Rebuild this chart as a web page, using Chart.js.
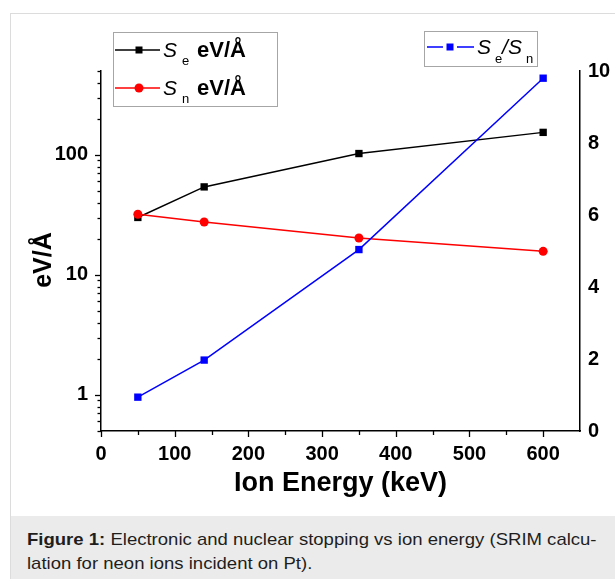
<!DOCTYPE html>
<html>
<head>
<meta charset="utf-8">
<script src="https://cdn.jsdelivr.net/npm/chart.js@4.4.0/dist/chart.umd.min.js"></script>
<style>
html,body{margin:0;padding:0;background:#fff;width:615px;height:579px;overflow:hidden;font-family:"Liberation Sans",Arial,sans-serif;}
#frame{position:absolute;left:10px;top:13px;width:640px;height:600px;border-left:1px solid #dcdcdc;border-top:1px solid #dcdcdc;box-sizing:border-box;background:#fff;}
#cap{position:absolute;left:11px;top:516px;width:604px;height:63px;background:#ebebeb;}
#capText{position:absolute;left:16px;top:12px;font-size:17px;line-height:24px;color:#1e1e1e;white-space:nowrap;transform:scaleX(1.09);transform-origin:0 0;}
#chartBox{position:absolute;left:0;top:0;width:615px;height:516px;}
canvas{display:block;}
</style>
</head>
<body>
<div id="frame"></div>
<div id="cap"><div id="capText"><b>Figure 1:</b> Electronic and nuclear stopping vs ion energy (SRIM calcu-<br>lation for neon ions incident on Pt).</div></div>
<div id="chartBox"><canvas id="c" width="615" height="516"></canvas></div>
<script>
// ---- data ----
const energies = [50, 140, 350, 600];          // Ion Energy (keV)
const seValues = [30.1, 54.1, 102.6, 154];     // S_e eV/Å
const snValues = [32.0, 27.6, 20.3, 15.7];     // S_n eV/Å
const ratioValues = [0.94, 1.97, 5.04, 9.8];   // S_e/S_n

// ---- ticks ----
const xTickLabels = [0, 100, 200, 300, 400, 500, 600];
const xMinorStep = 50;
const yTickLabels = [1, 10, 100];
const yMultipliers = [1, 2, 3, 4, 5, 6, 7, 8, 9];
const y2TickLabels = [0, 2, 4, 6, 8, 10];

// ---- legend text ----
const legendLeft = [
  {main: 'S', sub: 'e', unit: 'eV/Å'},
  {main: 'S', sub: 'n', unit: 'eV/Å'}
];
const legendRight = {num: 'S', numSub: 'e', den: 'S', denSub: 'n'};
const yTitle = 'eV/Å';
const xTitle = 'Ion Energy (keV)';

const FONT = '"Liberation Sans", Arial, sans-serif';

function pts(vals) { return energies.map((e, i) => ({x: e, y: vals[i]})); }

// log tick positions
const yLogTicks = [];
[0.1, 1, 10, 100].forEach(d => yMultipliers.forEach(m => {
  const v = +(d * m).toPrecision(3);
  if (v >= 0.5 && v <= 500) yLogTicks.push(v);
}));

const tickPlugin = {
  id: 'tickMarks',
  afterDraw(chart) {
    const ctx = chart.ctx;
    const xs = chart.scales.x, ys = chart.scales.y;
    ctx.save();
    ctx.strokeStyle = '#000';
    ctx.lineWidth = 1.3;
    xs.ticks.forEach(t => {
      if (t.value > xTickLabels[xTickLabels.length - 1]) return;
      const p = Math.round(xs.getPixelForValue(t.value)) + 0.5;
      const len = xTickLabels.includes(t.value) ? 6 : 4;
      ctx.beginPath(); ctx.moveTo(p, xs.top); ctx.lineTo(p, xs.top + len); ctx.stroke();
    });
    ys.ticks.forEach(t => {
      const p = Math.round(ys.getPixelForValue(t.value)) + 0.5;
      const len = yTickLabels.includes(t.value) ? 6 : 3.5;
      ctx.beginPath(); ctx.moveTo(ys.right, p); ctx.lineTo(ys.right - len, p); ctx.stroke();
    });
    ctx.restore();
  }
};

const decorPlugin = {
  id: 'decor',
  afterDraw(chart) {
    const ctx = chart.ctx;
    const ds = chart.data.datasets;
    ctx.save();
    // left y title (rotated)
    ctx.fillStyle = '#000';
    ctx.font = 'bold 25px ' + FONT;
    ctx.translate(51, 260);
    ctx.rotate(-Math.PI / 2);
    ctx.textAlign = 'center';
    ctx.textBaseline = 'alphabetic';
    ctx.fillText(yTitle, 0, 0);
    ctx.restore();

    // legend 1
    ctx.save();
    ctx.strokeStyle = '#a6a6a6';
    ctx.lineWidth = 1;
    ctx.strokeRect(113.5, 32.5, 164, 74);
    const rows = [50, 88];
    legendLeft.forEach((it, i) => {
      const d = ds[i];
      const y = rows[i];
      ctx.strokeStyle = d.borderColor; ctx.lineWidth = 1.5;
      ctx.beginPath(); ctx.moveTo(115, y); ctx.lineTo(160, y); ctx.stroke();
      ctx.fillStyle = d.borderColor;
      if (d.pointStyle === 'rect') { ctx.fillRect(135.5, y - 3.5, 7, 7); }
      else { ctx.beginPath(); ctx.arc(139, y, 4.5, 0, Math.PI * 2); ctx.fill(); }
      ctx.fillStyle = '#000';
      ctx.textBaseline = 'alphabetic';
      ctx.textAlign = 'left';
      ctx.font = 'italic 21px ' + FONT;
      ctx.fillText(it.main, 163, y + 7);
      ctx.font = '13px ' + FONT;
      ctx.fillText(it.sub, 182, y + 15);
      ctx.font = 'bold 22px ' + FONT;
      ctx.fillText(it.unit, 197, y + 7);
    });

    // legend 2
    const d3 = ds[2];
    ctx.strokeStyle = '#a6a6a6'; ctx.lineWidth = 1;
    ctx.strokeRect(424.5, 31.5, 113, 35);
    const ly = 47;
    ctx.strokeStyle = d3.borderColor; ctx.lineWidth = 1.5;
    ctx.beginPath(); ctx.moveTo(427, ly); ctx.lineTo(443, ly); ctx.moveTo(457, ly); ctx.lineTo(474, ly); ctx.stroke();
    ctx.fillStyle = d3.borderColor;
    ctx.fillRect(446.5, ly - 3.5, 7, 7);
    ctx.fillStyle = '#000';
    ctx.font = 'italic 21px ' + FONT;
    ctx.fillText(legendRight.num, 477, 54);
    ctx.font = '13px ' + FONT;
    ctx.fillText(legendRight.numSub, 495, 63);
    ctx.font = 'italic 21px ' + FONT;
    ctx.fillText('/', 502, 54);
    ctx.fillText(legendRight.den, 508, 54);
    ctx.font = '13px ' + FONT;
    ctx.fillText(legendRight.denSub, 526, 63);
    ctx.restore();
  }
};

const boldTick = {family: FONT, size: 20, weight: 'bold'};

new Chart(document.getElementById('c'), {
  type: 'line',
  data: {
    datasets: [
      {label: 'Se', data: pts(seValues), yAxisID: 'y', borderColor: '#000000', backgroundColor: '#000000',
       borderWidth: 1.5, pointStyle: 'rect', pointRadius: 5.2, pointBorderWidth: 0, order: 2},
      {label: 'Sn', data: pts(snValues), yAxisID: 'y', borderColor: '#ff0000', backgroundColor: '#ff0000',
       borderWidth: 1.5, pointStyle: 'circle', pointRadius: 4.5, pointBorderWidth: 0, order: 1},
      {label: 'Se/Sn', data: pts(ratioValues), yAxisID: 'y2', borderColor: '#0000ff', backgroundColor: '#0000ff',
       borderWidth: 1.5, pointStyle: 'rect', pointRadius: 5.2, pointBorderWidth: 0, order: 0}
    ]
  },
  options: {
    responsive: false,
    devicePixelRatio: 1,
    animation: false,
    events: [],
    layout: {padding: {top: 71, left: 0, right: 0, bottom: 0}},
    plugins: {legend: {display: false}, tooltip: {enabled: false}},
    scales: {
      x: {
        type: 'linear', min: 0, max: 650,
        afterFit(s) { s.height = 85; },
        grid: {display: true, drawOnChartArea: false, drawTicks: false},
        border: {display: true, color: '#000', width: 1.5},
        ticks: {stepSize: xMinorStep, padding: 11, color: '#000', font: boldTick, maxRotation: 0, autoSkip: false,
          callback: v => xTickLabels.includes(v) ? String(v) : ''},
        title: {display: true, text: xTitle, color: '#000', font: {family: FONT, size: 27, weight: 'bold'},
          padding: {top: 0, bottom: 16}}
      },
      y: {
        type: 'logarithmic', position: 'left', min: 0.5, max: 500,
        afterFit(s) { s.width = 101; },
        afterBuildTicks(s) { s.ticks = yLogTicks.map(v => ({value: v})); },
        grid: {display: true, drawOnChartArea: false, drawTicks: false},
        border: {display: true, color: '#000', width: 1.5},
        ticks: {padding: 13, color: '#000', font: boldTick, autoSkip: false,
          callback: v => yTickLabels.includes(v) ? String(v) : ''}
      },
      y2: {
        type: 'linear', position: 'right', min: 0, max: 10,
        afterFit(s) { s.width = 35; },
        grid: {display: true, drawOnChartArea: false, drawTicks: false},
        border: {display: true, color: '#000', width: 1.5},
        ticks: {stepSize: 2, padding: 8, color: '#000', font: boldTick,
          callback: v => y2TickLabels.includes(v) ? String(v) : ''}
      }
    }
  },
  plugins: [tickPlugin, decorPlugin]
});
</script>
</body>
</html>
